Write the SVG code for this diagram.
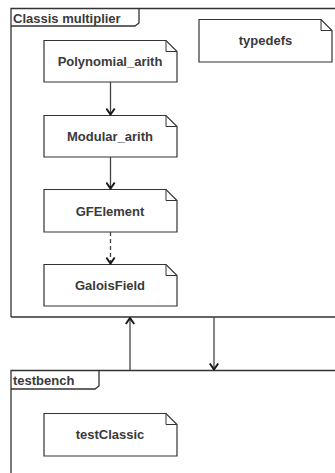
<svg xmlns="http://www.w3.org/2000/svg" width="335" height="473" viewBox="0 0 335 473">
  <defs>
    <marker id="open" viewBox="0 0 10 10" refX="9" refY="5" markerWidth="10" markerHeight="10" markerUnits="userSpaceOnUse" orient="auto">
      <path d="M3,0.8 L9,5 L3,9.2" fill="none" stroke="#1a1a1a" stroke-width="2"/>
    </marker>
  </defs>
  <style>
    .frame { fill: none; stroke: #333; stroke-width: 1.3; }
    .box { fill: #fff; stroke: #333; stroke-width: 1.2; }
    .fold { fill: none; stroke: #333; stroke-width: 1; }
    .lbl { font-family: "Liberation Sans", Arial, sans-serif; font-size: 13px; font-weight: bold; fill: #3a3a3a; }
    .mid { text-anchor: middle; }
    .edge { fill: none; stroke: #444; stroke-width: 1.3; marker-end: url(#open); }
    .dash { stroke-dasharray: 4 3; }
  </style>
  <rect width="335" height="473" fill="#fff"/>

  <!-- package frames -->
  <g id="classis-multiplier">
    <path class="frame" d="M11,317 L11,8.5 L340,8.5 M11,317 L340,317"/>
    <path class="frame" d="M11,26 L135,26 L139,23 L139,8.5"/>
    <text class="lbl" x="13" y="22.5">Classis multiplier</text>
  </g>
  <g id="testbench">
    <path class="frame" d="M11,480 L11,370.5 L340,370.5"/>
    <path class="frame" d="M11,389 L95,389 L99,386 L99,370.5"/>
    <text class="lbl" x="13" y="384.5">testbench</text>
  </g>

  <!-- artifact nodes -->
  <g id="typedefs">
    <path class="box" d="M199,19.5 L321,19.5 L332,30.5 L332,62 L199,62 Z"/>
    <path class="fold" d="M321,19.5 L321,30.5 L332,30.5"/>
    <text class="lbl mid" x="265.5" y="45">typedefs</text>
  </g>
  <g id="polynomial-arith">
    <path class="box" d="M44,40.5 L166,40.5 L177,51.5 L177,82 L44,82 Z"/>
    <path class="fold" d="M166,40.5 L166,51.5 L177,51.5"/>
    <text class="lbl mid" x="110" y="66">Polynomial_arith</text>
  </g>
  <g id="modular-arith">
    <path class="box" d="M44,115.5 L166,115.5 L177,126.5 L177,157 L44,157 Z"/>
    <path class="fold" d="M166,115.5 L166,126.5 L177,126.5"/>
    <text class="lbl mid" x="110" y="141">Modular_arith</text>
  </g>
  <g id="gfelement">
    <path class="box" d="M44,189.5 L166,189.5 L177,200.5 L177,232 L44,232 Z"/>
    <path class="fold" d="M166,189.5 L166,200.5 L177,200.5"/>
    <text class="lbl mid" x="110" y="215.5">GFElement</text>
  </g>
  <g id="galoisfield">
    <path class="box" d="M44,264.5 L166,264.5 L177,275.5 L177,306 L44,306 Z"/>
    <path class="fold" d="M166,264.5 L166,275.5 L177,275.5"/>
    <text class="lbl mid" x="110" y="290">GaloisField</text>
  </g>
  <g id="testclassic">
    <path class="box" d="M44,413.5 L166,413.5 L177,424.5 L177,456 L44,456 Z"/>
    <path class="fold" d="M166,413.5 L166,424.5 L177,424.5"/>
    <text class="lbl mid" x="110" y="439">testClassic</text>
  </g>

  <!-- connectors -->
  <g id="connectors">
    <line class="edge" x1="110.5" y1="82" x2="110.5" y2="114.5"/>
    <line class="edge" x1="110.5" y1="157" x2="110.5" y2="188.5"/>
    <line class="edge dash" x1="110.5" y1="232" x2="110.5" y2="263.5"/>
    <line class="edge" x1="130" y1="370.5" x2="130" y2="318"/>
    <line class="edge" x1="214" y1="317" x2="214" y2="369.5"/>
  </g>
</svg>
